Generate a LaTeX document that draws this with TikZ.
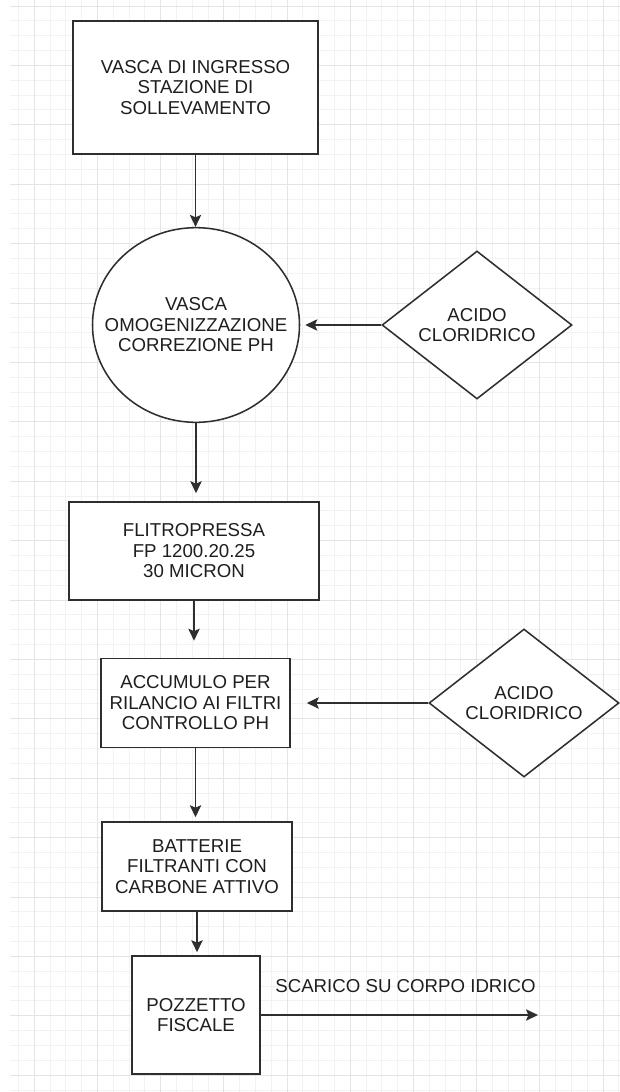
\documentclass[tikz,border=0pt]{standalone}
\usepackage{fontspec}
\setmainfont{Liberation Sans}
\usetikzlibrary{arrows.meta,shapes.geometric}
\definecolor{linec}{HTML}{2E2E2E}
\definecolor{textc}{HTML}{1E1E1E}
\definecolor{gridminor}{HTML}{F2F2F2}
\definecolor{gridmajor}{HTML}{E4E4E4}
\newcommand{\labfont}{\fontsize{14}{15.4}\selectfont}
\tikzset{
  shapebox/.style={draw=linec, line width=1.15pt, fill=white, inner sep=0pt},
  txt/.style={align=center, font=\labfont, text=textc, inner sep=0pt},
  flow/.style={draw=linec, line width=1.1pt, -{Stealth[length=9pt,width=8.5pt,inset=1.8pt]}},
}
\begin{document}
\begin{tikzpicture}[x=0.75pt,y=-0.75pt]
\useasboundingbox (0,0) rectangle (620,1092);
\fill[white] (0,0) rectangle (620,1092);
% grid
\foreach \k in {-1,...,37} {
  \pgfmathsetmacro{\gx}{34.3+15.8*\k}
  \draw[gridminor, line width=0.75pt] (\gx,0) -- (\gx,1092);
}
\foreach \k in {0,...,73} {
  \pgfmathsetmacro{\gy}{6+14.85*\k}
  \draw[gridminor, line width=0.75pt] (10,\gy) -- (620,\gy);
}
\foreach \k in {0,...,9} {
  \pgfmathsetmacro{\gx}{34.3+63.2*\k}
  \draw[gridmajor, line width=0.75pt] (\gx,0) -- (\gx,1092);
}
\foreach \k in {0,...,18} {
  \pgfmathsetmacro{\gy}{6+59.4*\k}
  \draw[gridmajor, line width=0.75pt] (10,\gy) -- (620,\gy);
}
% nodes
\node[shapebox, rectangle, minimum width=183.75pt, minimum height=99.75pt,
      label={[txt]center:VASCA DI INGRESSO\\STAZIONE DI\\SOLLEVAMENTO}] (b1) at (195.5,87.5) {};
\node[shapebox, ellipse, minimum width=155.25pt, minimum height=146pt,
      label={[txt]center:VASCA\\OMOGENIZZAZIONE\\CORREZIONE PH}] (circ) at (196,325) {};
\node[shapebox, diamond, minimum width=142.5pt, minimum height=111pt,
      label={[txt]center:ACIDO\\CLORIDRICO}] (d1) at (477,325) {};
\node[shapebox, rectangle, minimum width=187.5pt, minimum height=73.5pt,
      label={[txt]center:FLITROPRESSA\\FP 1200.20.25\\30 MICRON}] (b2) at (194,551) {};
\node[shapebox, rectangle, minimum width=141.75pt, minimum height=66.75pt,
      label={[txt]center:ACCUMULO PER\\RILANCIO AI FILTRI\\CONTROLLO PH}] (b3) at (195.5,703) {};
\node[shapebox, diamond, minimum width=142.5pt, minimum height=111pt,
      label={[txt]center:ACIDO\\CLORIDRICO}] (d2) at (524,703) {};
\node[shapebox, rectangle, minimum width=142.5pt, minimum height=66.75pt,
      label={[txt]center:BATTERIE\\FILTRANTI CON\\CARBONE ATTIVO}] (b4) at (197,866.5) {};
\node[shapebox, rectangle, minimum width=96pt, minimum height=88.5pt,
      label={[txt]center:POZZETTO\\FISCALE}] (b5) at (196,1015) {};
\coordinate (out) at (538,1015);
\node[txt] (lab) at (405.5,986) {SCARICO SU CORPO IDRICO};
% connectors
\draw[flow] (b1.south) -- (b1.south |- circ.north);
\draw[flow, shorten >=6pt] (circ.south) -- (circ.south |- b2.north);
\draw[flow, shorten >=12.75pt] (b2.south) -- (b2.south |- b3.north);
\draw[flow, shorten >=3pt] (b3.south) -- (b3.south |- b4.north);
\draw[flow, shorten >=2.25pt] (b4.south) -- (b4.south |- b5.north);
\draw[flow, shorten >=3.75pt] (d1.west) -- (circ.east);
\draw[flow, shorten >=12pt] (d2.west) -- (b3.east);
\draw[flow] (b5.east) -- (out);
\end{tikzpicture}
\end{document}
